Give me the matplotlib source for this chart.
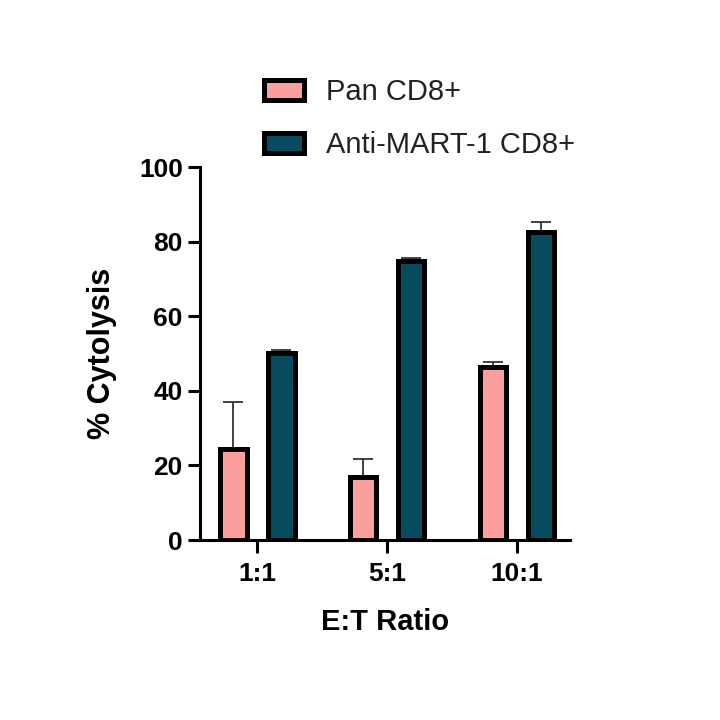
import matplotlib
matplotlib.use('Agg')
import matplotlib.pyplot as plt
import numpy as np

plt.rcParams['font.family'] = ['Liberation Sans', 'DejaVu Sans']

ratios = ['1:1', '5:1', '10:1']
pan_mean = [24.5, 17.0, 46.3]
pan_err = [12.5, 4.8, 1.3]
mart_mean = [50.2, 74.8, 82.6]
mart_err = [0.8, 0.8, 2.6]

pink = '#FA9E9E'
teal = '#064C5E'

fig = plt.figure(figsize=(7.2, 7.2), dpi=100)
ax = fig.add_axes([0.278, 0.25, 0.514, 0.518])

index = np.arange(len(ratios))
width = 0.205
offset = 0.185

ax.bar(index - offset, pan_mean, width, color=pink, edgecolor='black', linewidth=3.6,
       label='Pan CD8+', zorder=3)
ax.bar(index + offset, mart_mean, width, color=teal, edgecolor='black', linewidth=3.6,
       label='Anti-MART-1 CD8+', zorder=3)
ax.errorbar(index - offset, pan_mean, yerr=[np.zeros(3), pan_err], fmt='none',
            ecolor='#333333', elinewidth=1.3, capsize=7, capthick=1.3, zorder=2)
ax.errorbar(index + offset, mart_mean, yerr=[np.zeros(3), mart_err], fmt='none',
            ecolor='#333333', elinewidth=1.3, capsize=7, capthick=1.3, zorder=2)

ax.set_ylim(0, 100)
ax.set_xlim(-0.44, 2.41)
ax.set_yticks([0, 20, 40, 60, 80, 100])
ax.set_xticks(index)
ax.set_xticklabels(ratios)

for side in ['top', 'right']:
    ax.spines[side].set_visible(False)
for side in ['left', 'bottom']:
    ax.spines[side].set_linewidth(2.2)

ax.tick_params(axis='both', width=2.2, length=9, labelsize=19)
ax.tick_params(axis='y', pad=3.5)
ax.tick_params(axis='x', pad=7)
for lab in ax.get_xticklabels() + ax.get_yticklabels():
    lab.set_fontweight('bold')

ax.set_ylabel('% Cytolysis', fontsize=22, fontweight='bold', labelpad=16)
ax.set_xlabel('E:T Ratio', fontsize=21, fontweight='bold', labelpad=16)

leg = fig.legend(loc='center left', bbox_to_anchor=(0.366, 0.835), frameon=False,
                 fontsize=21, handlelength=1.4, handleheight=0.7, handletextpad=0.75,
                 labelspacing=0.85, borderpad=0, borderaxespad=0)
for t in leg.get_texts():
    t.set_color('#222222')

fig.savefig('out.png', dpi=100, facecolor='white')
